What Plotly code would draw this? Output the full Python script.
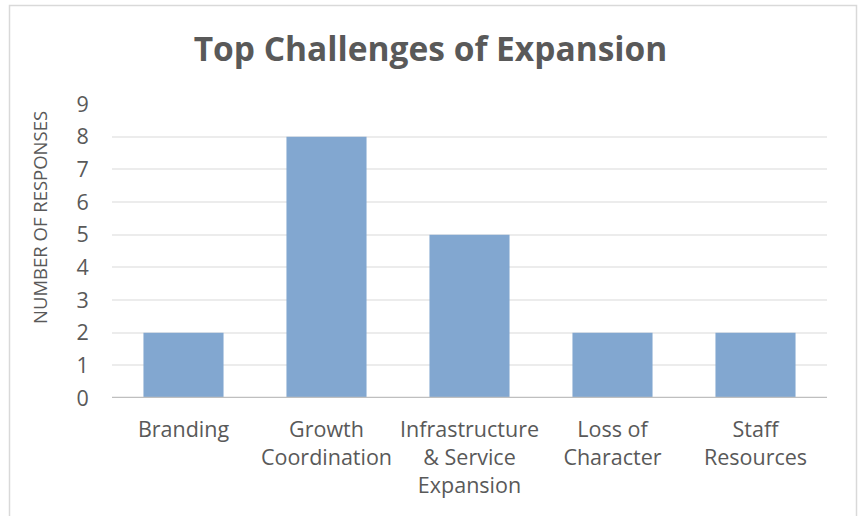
import plotly.graph_objects as go

categories = ["Branding", "Growth<br>Coordination", "Infrastructure<br>& Service<br>Expansion",
              "Loss of<br>Character", "Staff<br>Resources"]
responses = [2, 8, 5, 2, 2]
y_ticks = list(range(0, 10))

W, H = 861, 516
L, R, T, B = 112, 34, 104, 118
pw, ph = W - L - R, H - T - B

def px_x(x):
    return (x - L) / pw

def px_y(y):
    return (H - B - y) / ph

text_color = "#595959"
font_family = "Open Sans, Lato, sans-serif"

fig = go.Figure(go.Bar(
    x=categories, y=responses,
    marker=dict(color="#82a7d0", line=dict(width=0)),
    width=0.56,
))

fig.update_layout(
    width=W, height=H,
    margin=dict(l=L, r=R, t=T, b=B),
    paper_bgcolor="white", plot_bgcolor="white",
    showlegend=False,
    font=dict(family=font_family, color=text_color),
    title=dict(text="<b>Top Challenges of Expansion</b>",
               x=0.5, xanchor="center", y=1 - 49 / H, yanchor="middle",
               font=dict(size=33.5, color=text_color, family=font_family)),
    xaxis=dict(showgrid=False, showline=False, zeroline=False,
               tickfont=dict(size=21.5, color=text_color),
               ticks="outside", ticklen=12, tickcolor="rgba(0,0,0,0)"),
    yaxis=dict(range=[0, 9], tickvals=y_ticks, showgrid=True, gridcolor="#ececec", gridwidth=1.5,
               zeroline=False, showline=False,
               tickfont=dict(size=21.5, color=text_color),
               ticks="outside", ticklen=18, tickcolor="rgba(0,0,0,0)"),
    annotations=[
        # y-axis title, placed by hand so it sits slightly above the plot's centre
        dict(text="NUMBER OF RESPONSES", textangle=-90, showarrow=False,
             xref="paper", yref="paper", x=px_x(39), y=px_y(218),
             xanchor="center", yanchor="middle",
             font=dict(size=18.5, color=text_color, family=font_family)),
    ],
    shapes=[
        # baseline at zero
        dict(type="line", xref="paper", yref="y", x0=0, x1=1, y0=0, y1=0,
             line=dict(color="#bfbfbf", width=2.5)),
        # chart frame
        dict(type="rect", xref="paper", yref="paper",
             x0=px_x(9.5), x1=px_x(856.5), y0=px_y(530), y1=px_y(5.5),
             line=dict(color="#d9d9d9", width=1.5), fillcolor="rgba(0,0,0,0)", layer="below"),
    ],
)

fig.write_html("out.html")
